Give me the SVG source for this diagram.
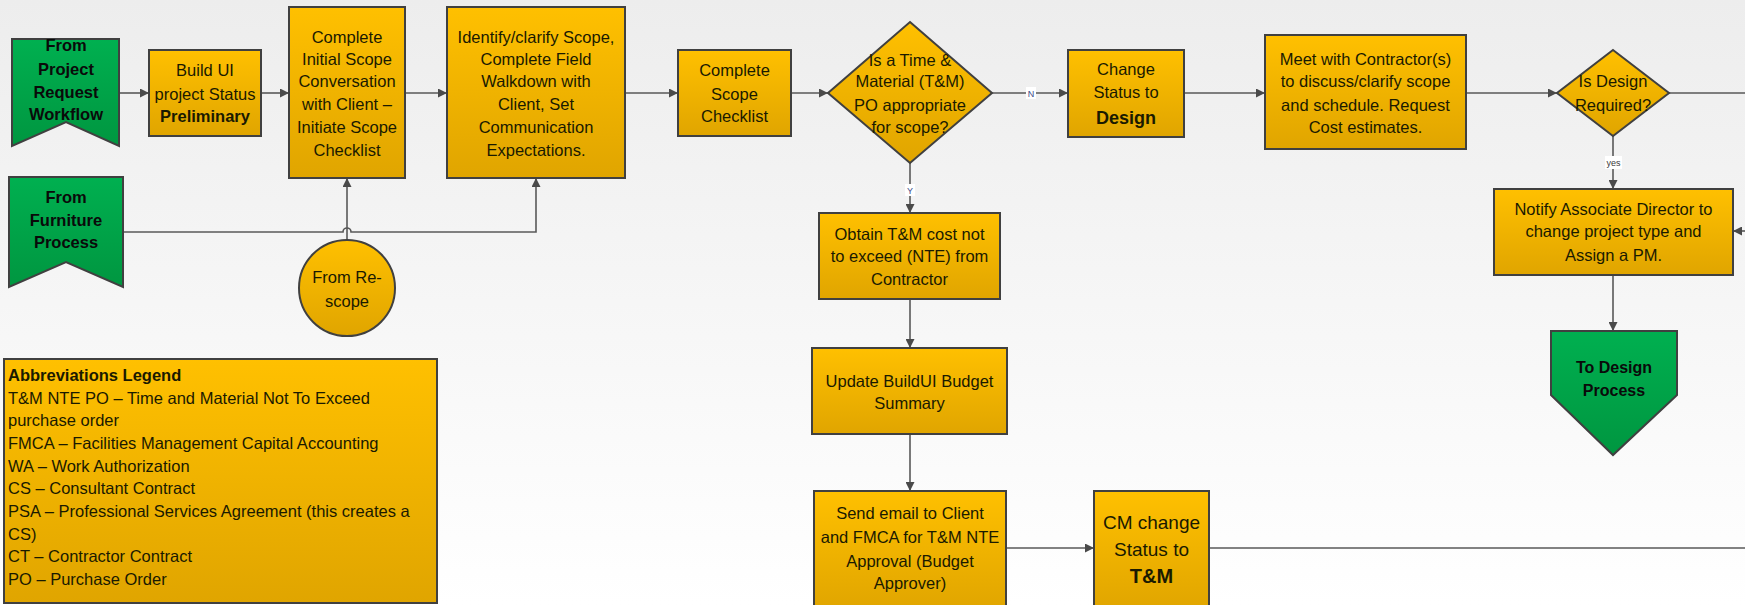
<svg xmlns="http://www.w3.org/2000/svg" width="1745" height="605" viewBox="0 0 1745 605">
  <defs>
    <linearGradient id="bg" x1="0" y1="0" x2="0" y2="1">
      <stop offset="0" stop-color="#ededed"/>
      <stop offset="1" stop-color="#ffffff"/>
    </linearGradient>
    <linearGradient id="gold" x1="0" y1="0" x2="0" y2="1">
      <stop offset="0" stop-color="#ffc000"/>
      <stop offset="1" stop-color="#e0a500"/>
    </linearGradient>
    <linearGradient id="green" x1="0" y1="0" x2="0" y2="1">
      <stop offset="0" stop-color="#00b050"/>
      <stop offset="1" stop-color="#009640"/>
    </linearGradient>
    <marker id="arrow" viewBox="0 0 10 10" refX="10" refY="5" markerWidth="10" markerHeight="9" markerUnits="userSpaceOnUse" orient="auto">
      <path d="M0,0 L10,5 L0,10 Z" fill="#4a4a4a"/>
    </marker>
    <style>
      .box { fill: url(#gold); stroke: #404040; stroke-width: 2; }
      .term { fill: url(#green); stroke: #404040; stroke-width: 2; }
      .t { font-family: "Liberation Sans", Arial, sans-serif; font-size: 16.5px; fill: #1a1a00; text-anchor: middle; }
      .b { font-weight: bold; }
      .tb { font-family: "Liberation Sans", Arial, sans-serif; font-size: 16.5px; font-weight: bold; fill: #0a0a0a; text-anchor: middle; }
      .lg { font-family: "Liberation Sans", Arial, sans-serif; font-size: 16.5px; fill: #1a1a00; }
      .wire { fill: none; stroke: #595959; stroke-width: 1.6; }
      .lbl { font-family: "Liberation Sans", Arial, sans-serif; font-size: 9px; fill: #3a4a8a; text-anchor: middle; }
    </style>
  </defs>

  <rect x="0" y="0" width="1745" height="605" fill="url(#bg)"/>

  <!-- connectors -->
  <g id="connectors">
    <path class="wire" d="M119,93 H149" marker-end="url(#arrow)"/>
    <path class="wire" d="M261,93 H289" marker-end="url(#arrow)"/>
    <path class="wire" d="M405,93 H447" marker-end="url(#arrow)"/>
    <path class="wire" d="M625,93 H678" marker-end="url(#arrow)"/>
    <path class="wire" d="M791,93 H828" marker-end="url(#arrow)"/>
    <path class="wire" d="M992,93 H1068" marker-end="url(#arrow)"/>
    <path class="wire" d="M1184,93 H1265" marker-end="url(#arrow)"/>
    <path class="wire" d="M1466,93 H1557" marker-end="url(#arrow)"/>
    <path class="wire" d="M1669,93 H1745"/>
    <path class="wire" d="M1613,136 V189" marker-end="url(#arrow)"/>
    <path class="wire" d="M1745,231 H1733" marker-end="url(#arrow)"/>
    <path class="wire" d="M1613,275 V331" marker-end="url(#arrow)"/>
    <path class="wire" d="M910,163 V213" marker-end="url(#arrow)"/>
    <path class="wire" d="M910,299 V348" marker-end="url(#arrow)"/>
    <path class="wire" d="M910,434 V491" marker-end="url(#arrow)"/>
    <path class="wire" d="M1006,548 H1094" marker-end="url(#arrow)"/>
    <path class="wire" d="M1209,548 H1745"/>
    <path class="wire" d="M123,232 H343 A4,4 0 0 1 351,232 H536 V178" marker-end="url(#arrow)"/>
    <path class="wire" d="M347,240 V178" marker-end="url(#arrow)"/>
    <!-- branch labels -->
    <rect x="1026" y="87" width="10" height="12" fill="#ffffff"/>
    <text class="lbl" x="1031" y="96.5">N</text>
    <rect x="905" y="184" width="10" height="12" fill="#ffffff"/>
    <text class="lbl" x="910" y="193.5">Y</text>
    <rect x="1605" y="156" width="17" height="13" fill="#ffffff"/>
    <text class="lbl" x="1613.5" y="165.5" style="fill:#3a3a3a">yes</text>
  </g>

  <g id="from-project-request">
    <path class="term" d="M12,39 H119 V146 L66,122 L12,146 Z"/>
    <text class="tb" x="66" y="51">From</text>
    <text class="tb" x="66" y="75">Project</text>
    <text class="tb" x="66" y="98">Request</text>
    <text class="tb" x="66" y="120">Workflow</text>
  </g>

  <g id="from-furniture">
    <path class="term" d="M9,177 H123 V287 L66,262 L9,287 Z"/>
    <text class="tb" x="66" y="203">From</text>
    <text class="tb" x="66" y="226">Furniture</text>
    <text class="tb" x="66" y="248">Process</text>
  </g>

  <g id="build-ui">
    <rect class="box" x="149" y="50" width="112" height="86"/>
    <text class="t" x="205" y="76">Build UI</text>
    <text class="t" x="205" y="100">project Status</text>
    <text class="t b" x="205" y="122">Preliminary</text>
  </g>

  <g id="initial-scope">
    <rect class="box" x="289" y="7" width="116" height="171"/>
    <text class="t" x="347" y="43">Complete</text>
    <text class="t" x="347" y="65">Initial Scope</text>
    <text class="t" x="347" y="87">Conversation</text>
    <text class="t" x="347" y="110">with Client –</text>
    <text class="t" x="347" y="133">Initiate Scope</text>
    <text class="t" x="347" y="156">Checklist</text>
  </g>

  <g id="from-rescope">
    <circle class="box" cx="347" cy="288" r="48"/>
    <text class="t" x="347" y="283">From Re-</text>
    <text class="t" x="347" y="307">scope</text>
  </g>

  <g id="identify-scope">
    <rect class="box" x="447" y="7" width="178" height="171"/>
    <text class="t" x="536" y="43">Identify/clarify Scope,</text>
    <text class="t" x="536" y="65">Complete Field</text>
    <text class="t" x="536" y="87">Walkdown with</text>
    <text class="t" x="536" y="110">Client, Set</text>
    <text class="t" x="536" y="133">Communication</text>
    <text class="t" x="536" y="156">Expectations.</text>
  </g>

  <g id="scope-checklist">
    <rect class="box" x="678" y="50" width="113" height="86"/>
    <text class="t" x="734.5" y="76">Complete</text>
    <text class="t" x="734.5" y="100">Scope</text>
    <text class="t" x="734.5" y="122">Checklist</text>
  </g>

  <g id="tm-decision">
    <path class="box" d="M910,22 L992,93 L910,163 L828,93 Z"/>
    <text class="t" x="910" y="66">Is a Time &amp;</text>
    <text class="t" x="910" y="87">Material (T&amp;M)</text>
    <text class="t" x="910" y="111">PO appropriate</text>
    <text class="t" x="910" y="133">for scope?</text>
  </g>

  <g id="status-design">
    <rect class="box" x="1068" y="50" width="116" height="87"/>
    <text class="t" x="1126" y="75">Change</text>
    <text class="t" x="1126" y="98">Status to</text>
    <text class="t b" x="1126" y="124" style="font-size:18px">Design</text>
  </g>

  <g id="meet-contractor">
    <rect class="box" x="1265" y="35" width="201" height="114"/>
    <text class="t" x="1365.5" y="65">Meet with Contractor(s)</text>
    <text class="t" x="1365.5" y="87">to discuss/clarify scope</text>
    <text class="t" x="1365.5" y="111">and schedule.  Request</text>
    <text class="t" x="1365.5" y="133">Cost estimates.</text>
  </g>

  <g id="design-decision">
    <path class="box" d="M1613,50 L1669,93 L1613,136 L1557,93 Z"/>
    <text class="t" x="1613" y="87">Is Design</text>
    <text class="t" x="1613" y="111">Required?</text>
  </g>

  <g id="notify-director">
    <rect class="box" x="1494" y="189" width="239" height="86"/>
    <text class="t" x="1613.5" y="215">Notify Associate Director to</text>
    <text class="t" x="1613.5" y="237">change project type and</text>
    <text class="t" x="1613.5" y="261">Assign a PM.</text>
  </g>

  <g id="to-design">
    <path class="term" d="M1551,331 H1677 V395 L1613,455 L1551,395 Z"/>
    <text class="tb" x="1614" y="373" style="font-size:16px">To Design</text>
    <text class="tb" x="1614" y="396" style="font-size:16px">Process</text>
  </g>

  <g id="obtain-nte">
    <rect class="box" x="819" y="213" width="181" height="86"/>
    <text class="t" x="909.5" y="240">Obtain T&amp;M cost not</text>
    <text class="t" x="909.5" y="262">to exceed (NTE) from</text>
    <text class="t" x="909.5" y="285">Contractor</text>
  </g>

  <g id="update-budget">
    <rect class="box" x="812" y="348" width="195" height="86"/>
    <text class="t" x="909.5" y="387">Update BuildUI Budget</text>
    <text class="t" x="909.5" y="409">Summary</text>
  </g>

  <g id="send-email">
    <rect class="box" x="814" y="491" width="192" height="120"/>
    <text class="t" x="910" y="519">Send email to Client</text>
    <text class="t" x="910" y="543">and FMCA for T&amp;M NTE</text>
    <text class="t" x="910" y="567">Approval (Budget</text>
    <text class="t" x="910" y="589">Approver)</text>
  </g>

  <g id="status-tm">
    <rect class="box" x="1094" y="491" width="115" height="120"/>
    <text class="t" x="1151.5" y="529" style="font-size:19px">CM change</text>
    <text class="t" x="1151.5" y="556" style="font-size:19px">Status to</text>
    <text class="t b" x="1151.5" y="583" style="font-size:20px">T&amp;M</text>
  </g>

  <g id="legend">
    <rect class="box" x="4" y="359" width="433" height="244"/>
    <text class="lg b" x="8" y="381">Abbreviations Legend</text>
    <text class="lg" x="8" y="404">T&amp;M NTE PO – Time and Material Not To Exceed</text>
    <text class="lg" x="8" y="426">purchase order</text>
    <text class="lg" x="8" y="449">FMCA – Facilities Management Capital Accounting</text>
    <text class="lg" x="8" y="472">WA – Work Authorization</text>
    <text class="lg" x="8" y="494">CS – Consultant Contract</text>
    <text class="lg" x="8" y="517">PSA – Professional Services Agreement (this creates a</text>
    <text class="lg" x="8" y="540">CS)</text>
    <text class="lg" x="8" y="562">CT – Contractor Contract</text>
    <text class="lg" x="8" y="585">PO – Purchase Order</text>
  </g>
</svg>
